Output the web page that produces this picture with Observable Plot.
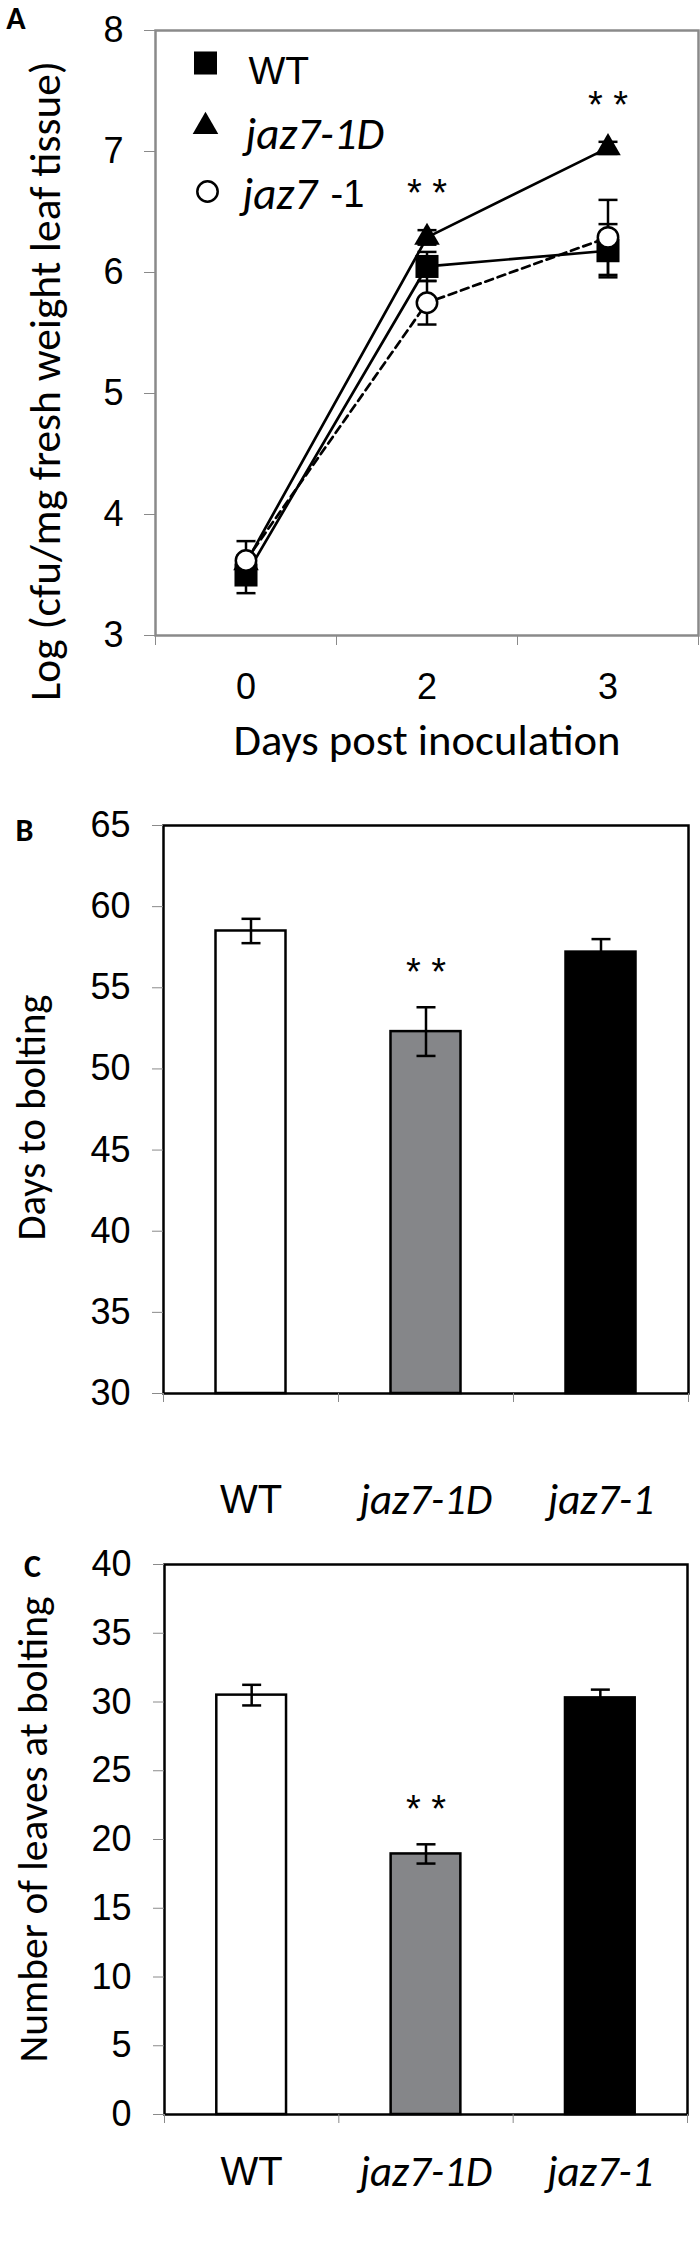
<!DOCTYPE html>
<html><head><meta charset="utf-8">
<script src="https://cdn.jsdelivr.net/npm/d3@7"></script>
<script src="https://cdn.jsdelivr.net/npm/@observablehq/plot@0.6"></script>
<style>
html,body{margin:0;padding:0;background:#fff;overflow:hidden;}
#wrap{width:700px;}
#wrap svg{display:block;overflow:visible;max-width:none !important;}
</style></head><body><div id="wrap"></div>
<script>
// ---------- Panel A: bacterial growth ----------
const days = ["0", "2", "3"];
const wtLog = [3.50, 6.05, 6.18];
const wtLogErr = [0.15, 0.12, 0.22];
const d1Log = [3.60, 6.29, 7.03];
const d1LogErr = [0.06, 0.06, 0.05];
const k1Log = [3.62, 5.75, 6.29];
const k1LogErr = [0.16, 0.18, 0.31];
const logSig = ["", "**", "**"];
const logTicks = [3, 4, 5, 6, 7, 8];

// ---------- Panel B: days to bolting ----------
const genotypes = ["WT", "jaz7-1D", "jaz7-1"];
const boltDays = [58.5, 52.3, 57.2];
const boltDaysErr = [0.75, 1.5, 0.8];
const boltSig = ["", "**", ""];
const boltTicks = [30, 35, 40, 45, 50, 55, 60, 65];

// ---------- Panel C: leaves at bolting ----------
const leaves = [30.5, 18.95, 30.3];
const leavesErr = [0.75, 0.7, 0.6];
const leavesSig = ["", "**", ""];
const leavesTicks = [0, 5, 10, 15, 20, 25, 30, 35, 40];

const barFills = ["#ffffff", "#858689", "#000000"];

const ARIAL = "'Liberation Sans', Arial, sans-serif";
const CAL = "Carlito, Lato, sans-serif";
const titleA = "Log (cfu/mg fresh weight leaf tissue)";
const xTitleA = "Days post inoculation";
const titleB = "Days to bolting";
const titleC = "Number of leaves at bolting";

const capSymbol = {draw(ctx, size) { const r = Math.sqrt(size / Math.PI); ctx.moveTo(-r, 0); ctx.lineTo(r, 0); }};

function errMarks(rows, capR) {
  const caps = rows.flatMap(d => [{i: d.i, y: d.v - d.e}, {i: d.i, y: d.v + d.e}]);
  return [
    Plot.ruleX(rows, {x: d => d.i + 0.5, y1: d => d.v - d.e, y2: d => d.v + d.e, stroke: "black", strokeWidth: 2.5}),
    Plot.dot(caps, {x: d => d.i + 0.5, y: "y", symbol: capSymbol, r: capR, fill: "none", stroke: "black", strokeWidth: 2.5})
  ];
}

function fitText(svg, content, len) {
  svg.querySelectorAll("text").forEach(t => {
    if (t.textContent === content) { t.setAttribute("textLength", len); t.setAttribute("lengthAdjust", "spacingAndGlyphs"); }
  });
}

// ----- Panel A -----
const seriesA = [
  {name: "WT", mean: wtLog, err: wtLogErr},
  {name: "jaz7-1D", mean: d1Log, err: d1LogErr},
  {name: "jaz7-1", mean: k1Log, err: k1LogErr}
];
const rowsA = seriesA.flatMap(s => days.map((d, i) => ({series: s.name, i, day: d, v: s.mean[i], e: s.err[i]})));
const sigA = days.map((d, i) => ({i, v: d1Log[i] + d1LogErr[i], s: logSig[i]})).filter(d => d.s);

const plotA = Plot.plot({
  width: 700, height: 770,
  marginTop: 30, marginBottom: 135, marginLeft: 155, marginRight: 2,
  x: {domain: [0, 3]}, y: {domain: [3, 8]},
  style: {fontFamily: ARIAL, background: "white", color: "black"},
  marks: [
    Plot.frame({stroke: "#8a8a8a", strokeWidth: 2.5}),
    Plot.axisY({ticks: logTicks, tickSize: 11, tickPadding: 21, tickFormat: d => String(d), stroke: "#8a8a8a", fill: "black", fontSize: 36, fontFamily: ARIAL, label: null}),
    Plot.axisX({ticks: [0, 1, 2, 3], tickSize: 10, tickFormat: () => "", stroke: "#8a8a8a", label: null}),
    Plot.text(days, {x: (d, i) => i + 0.5, text: d => d, frameAnchor: "bottom", dy: 52, textAnchor: "middle", lineAnchor: "middle", fontSize: 36, fontFamily: ARIAL}),
    Plot.text([xTitleA], {frameAnchor: "bottom", dy: 105, textAnchor: "middle", lineAnchor: "middle", fontSize: 44, fontFamily: CAL}),
    Plot.text([titleA], {frameAnchor: "left", rotate: -90, dx: -110, dy: 48, textAnchor: "middle", lineAnchor: "middle", fontSize: 44, fontFamily: CAL}),
    Plot.text(["A"], {frameAnchor: "top-left", dx: -139.5, dy: -11.5, textAnchor: "middle", lineAnchor: "middle", fontWeight: "bold", fontSize: 32, fontFamily: CAL}),
    Plot.line(rowsA.filter(d => d.series !== "jaz7-1"), {x: d => d.i + 0.5, y: "v", z: "series", stroke: "black", strokeWidth: 2.7}),
    Plot.line(rowsA.filter(d => d.series === "jaz7-1"), {x: d => d.i + 0.5, y: "v", stroke: "black", strokeWidth: 2.7, strokeDasharray: "8,5"}),
    ...errMarks(rowsA, 9.5),
    Plot.dot(rowsA.filter(d => d.series === "WT"), {x: d => d.i + 0.5, y: "v", symbol: "square", r: 13, fill: "black"}),
    Plot.dot(rowsA.filter(d => d.series === "jaz7-1D"), {x: d => d.i + 0.5, y: "v", symbol: "triangle", r: 9.5, fill: "black"}),
    Plot.dot(rowsA.filter(d => d.series === "jaz7-1"), {x: d => d.i + 0.5, y: "v", symbol: "circle", r: 10.2, fill: "white", stroke: "black", strokeWidth: 2.5}),
    Plot.text(sigA, {x: d => d.i + 0.5, y: "v", text: d => d.s.split("").join(" "), dy: -36, textAnchor: "middle", lineAnchor: "middle", fontSize: 38, fontFamily: ARIAL}),
    // legend
    Plot.dot([0], {frameAnchor: "top-left", dx: 50, dy: 32.5, symbol: "square", r: 13, fill: "black"}),
    Plot.dot([0], {frameAnchor: "top-left", dx: 50, dy: 96, symbol: "triangle", r: 9.5, fill: "black"}),
    Plot.dot([0], {frameAnchor: "top-left", dx: 52, dy: 161, symbol: "circle", r: 10.2, fill: "white", stroke: "black", strokeWidth: 2.5}),
    Plot.text([genotypes[0]], {frameAnchor: "top-left", dx: 93, dy: 41, textAnchor: "start", lineAnchor: "middle", fontSize: 39, fontFamily: ARIAL}),
    Plot.text([genotypes[1]], {frameAnchor: "top-left", dx: 90, dy: 104, textAnchor: "start", lineAnchor: "middle", fontSize: 45, fontStyle: "italic", fontFamily: CAL}),
    Plot.text(["jaz7"], {frameAnchor: "top-left", dx: 87, dy: 164, textAnchor: "start", lineAnchor: "middle", fontSize: 45, fontStyle: "italic", fontFamily: CAL}),
    Plot.text(["-1"], {frameAnchor: "top-left", dx: 175, dy: 164, textAnchor: "start", lineAnchor: "middle", fontSize: 38, fontFamily: ARIAL})
  ]
});
fitText(plotA, titleA, 640);
fitText(plotA, xTitleA, 387);

// ----- Bar panels -----
function barPanel({values, errs, sig, ticks, domain, height, mt, mb, ml, mr, yTitle, titleDy, titleSize, titleLen, letter, letterDx, letterDy, labelDy}) {
  const rows = genotypes.map((g, i) => ({g, i, v: values[i], e: errs[i], s: sig[i]}));
  const svg = Plot.plot({
    width: 700, height,
    marginTop: mt, marginBottom: mb, marginLeft: ml, marginRight: mr,
    x: {domain: [0, 3]}, y: {domain},
    color: {type: "identity"},
    style: {fontFamily: ARIAL, background: "white", color: "black"},
    marks: [
      Plot.rectY(rows, {x1: d => d.i + 0.3, x2: d => d.i + 0.7, y1: domain[0], y2: "v", fill: d => barFills[d.i], stroke: "black", strokeWidth: 2.5}),
      ...errMarks(rows, 9.5),
      Plot.text(rows.filter(d => d.s), {x: d => d.i + 0.5, y: d => d.v + d.e, text: d => d.s.split("").join(" "), dy: -34, textAnchor: "middle", lineAnchor: "middle", fontSize: 38, fontFamily: ARIAL}),
      Plot.frame({stroke: "black", strokeWidth: 2.5}),
      Plot.axisY({ticks, tickSize: 11, tickPadding: 22, tickFormat: d => String(d), stroke: "#8a8a8a", fill: "black", fontSize: 36, fontFamily: ARIAL, label: null}),
      Plot.axisX({ticks: [0, 1, 2, 3], tickSize: 9, tickFormat: () => "", stroke: "#8a8a8a", label: null}),
      Plot.text(rows.filter(d => d.g === "WT"), {x: d => d.i + 0.5, text: "g", frameAnchor: "bottom", dy: labelDy, textAnchor: "middle", lineAnchor: "middle", fontSize: 40, fontFamily: ARIAL}),
      Plot.text(rows.filter(d => d.g !== "WT"), {x: d => d.i + 0.5, text: "g", frameAnchor: "bottom", dy: labelDy, textAnchor: "middle", lineAnchor: "middle", fontSize: 43, fontStyle: "italic", fontFamily: CAL}),
      Plot.text([yTitle], {frameAnchor: "left", rotate: -90, dx: -131, dy: titleDy, textAnchor: "middle", lineAnchor: "middle", fontSize: titleSize, fontFamily: CAL}),
      Plot.text([letter], {frameAnchor: "top-left", dx: letterDx, dy: letterDy, textAnchor: "middle", lineAnchor: "middle", fontWeight: "bold", fontSize: 32, fontFamily: CAL})
    ]
  });
  fitText(svg, yTitle, titleLen);
  return svg;
}

const plotB = barPanel({values: boltDays, errs: boltDaysErr, sig: boltSig, ticks: boltTicks, domain: [30, 65],
  height: 760, mt: 55, mb: 137, ml: 163, mr: 12, yTitle: titleB, titleDy: 8, titleSize: 40, titleLen: 246,
  letter: "B", letterDx: -139, letterDy: 5, labelDy: 107});

const plotC = barPanel({values: leaves, errs: leavesErr, sig: leavesSig, ticks: leavesTicks, domain: [0, 40],
  height: 729, mt: 34, mb: 145, ml: 164, mr: 13, yTitle: titleC, titleDy: -10, titleSize: 41, titleLen: 466,
  letter: "C", letterDx: -132, letterDy: 2, labelDy: 58});

const wrap = document.getElementById("wrap");
wrap.append(plotA, plotB, plotC);
</script></body></html>
